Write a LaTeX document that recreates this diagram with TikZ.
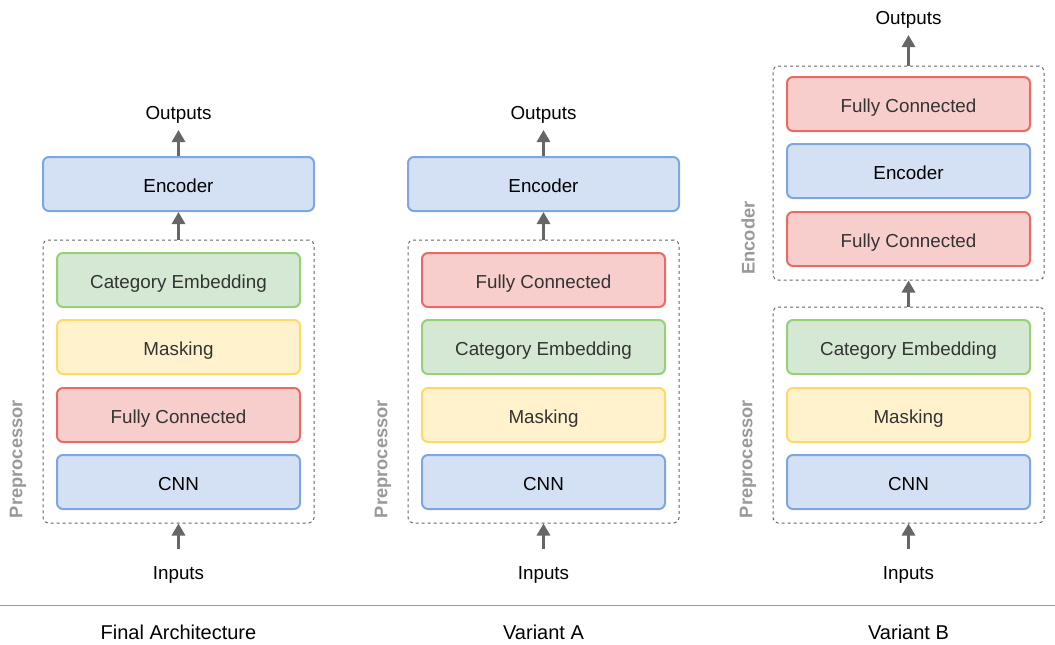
\documentclass[tikz,border=0pt]{standalone}
\usepackage{fontspec}
\setmainfont{Liberation Sans}
\usetikzlibrary{arrows.meta}
\definecolor{bfill}{HTML}{D4E1F5}\definecolor{bdraw}{HTML}{7EA6E0}
\definecolor{rfill}{HTML}{F8CECC}\definecolor{rdraw}{HTML}{EA6B66}
\definecolor{gfill}{HTML}{D5E8D4}\definecolor{gdraw}{HTML}{97D077}
\definecolor{yfill}{HTML}{FFF2CC}\definecolor{ydraw}{HTML}{FFD966}
\definecolor{arrgray}{HTML}{666666}
\definecolor{lblgray}{HTML}{999999}
\definecolor{txt}{HTML}{333333}
\tikzset{
  layer/.style={rectangle, rounded corners=6pt, line width=2pt, minimum height=54pt, inner sep=0pt, text height=16.5pt, text depth=0pt, font=\fontsize{18.8}{22}\selectfont},
  wide/.style={layer, minimum width=271pt},
  narrow/.style={layer, minimum width=243pt},
  blue/.style={fill=bfill, draw=bdraw, text=black},
  red/.style={fill=rfill, draw=rdraw, text=txt},
  green/.style={fill=gfill, draw=gdraw, text=txt},
  yellow/.style={fill=yfill, draw=ydraw, text=txt},
  group/.style={rectangle, rounded corners=5pt, draw=arrgray, line width=1pt, dash pattern=on 3pt off 3pt, inner sep=0pt},
  io/.style={font=\fontsize{18.8}{22}\selectfont, text=black, inner sep=0pt},
  grouplabel/.style={rotate=90, font=\fontsize{18.3}{22}\selectfont\bfseries, text=lblgray, inner sep=0pt},
  title/.style={font=\fontsize{20}{24}\selectfont, text=black, inner sep=0pt},
  arr/.style={draw=arrgray, line width=3pt, -{Triangle[length=12pt,width=13pt]}, fill=arrgray},
}
\begin{document}
\begin{tikzpicture}[x=1pt,y=-1pt]
\useasboundingbox (0,0) rectangle (1055,645);
% ===== Panel 1 =====
\node[group, minimum width=271pt, minimum height=283pt] (pre1) at (178.5,381.5) {};
\node[narrow, green] (ce1) at (178.5,280) {Category Embedding};
\node[narrow, yellow] (mk1) at (178.5,347) {Masking};
\node[narrow, red] (fc1) at (178.5,415) {Fully Connected};
\node[narrow, blue] (cnn1) at (178.5,482) {CNN};
\node[wide, blue] (enc1) at (178.5,184) {Encoder};
\node[io] (out1) at (178.5,114.5) {Outputs};
\node[io] (in1) at (178.5,575) {Inputs};
\node[grouplabel] (pl1) at (18,459) {Preprocessor};
\coordinate (out1a) at (178.5,130);
\coordinate (in1a) at (178.5,549);
\draw[arr] (enc1.north) -- (out1a);
\draw[arr] (pre1.north) -- (enc1.south);
\draw[arr] (in1a) -- (pre1.south);
% ===== Panel 2 =====
\node[group, minimum width=271pt, minimum height=283pt] (pre2) at (543.5,381.5) {};
\node[narrow, red] (fc2) at (543.5,280) {Fully Connected};
\node[narrow, green] (ce2) at (543.5,347) {Category Embedding};
\node[narrow, yellow] (mk2) at (543.5,415) {Masking};
\node[narrow, blue] (cnn2) at (543.5,482) {CNN};
\node[wide, blue] (enc2) at (543.5,184) {Encoder};
\node[io] (out2) at (543.5,114.5) {Outputs};
\node[io] (in2) at (543.5,575) {Inputs};
\node[grouplabel] (pl2) at (383,459) {Preprocessor};
\coordinate (out2a) at (543.5,130);
\coordinate (in2a) at (543.5,549);
\draw[arr] (enc2.north) -- (out2a);
\draw[arr] (pre2.north) -- (enc2.south);
\draw[arr] (in2a) -- (pre2.south);
% ===== Panel 3 =====
\node[group, minimum width=271pt, minimum height=214pt] (encg3) at (908.5,173) {};
\node[narrow, red] (fca3) at (908.5,104) {Fully Connected};
\node[narrow, blue] (enc3) at (908.5,171) {Encoder};
\node[narrow, red] (fcb3) at (908.5,239) {Fully Connected};
\node[group, minimum width=271pt, minimum height=216pt] (pre3) at (908.5,415) {};
\node[narrow, green] (ce3) at (908.5,347) {Category Embedding};
\node[narrow, yellow] (mk3) at (908.5,415) {Masking};
\node[narrow, blue] (cnn3) at (908.5,482) {CNN};
\node[io] (out3) at (908.5,20) {Outputs};
\node[io] (in3) at (908.5,575) {Inputs};
\node[grouplabel] (el3) at (748,238) {Encoder};
\node[grouplabel] (pl3) at (748,459) {Preprocessor};
\coordinate (out3a) at (908.5,35);
\coordinate (in3a) at (908.5,549);
\draw[arr] (encg3.north) -- (out3a);
\draw[arr] (pre3.north) -- (encg3.south);
\draw[arr] (in3a) -- (pre3.south);
% ===== Separator and titles =====
\coordinate (sepl) at (0,605);
\coordinate (sepr) at (1055,605);
\draw[draw=lblgray, line width=1pt] (sepl) -- (sepr);
\node[title] (t1) at (178.5,632) {Final Architecture};
\node[title] (t2) at (543.5,632) {Variant A};
\node[title] (t3) at (908.5,632) {Variant B};
\end{tikzpicture}
\end{document}
